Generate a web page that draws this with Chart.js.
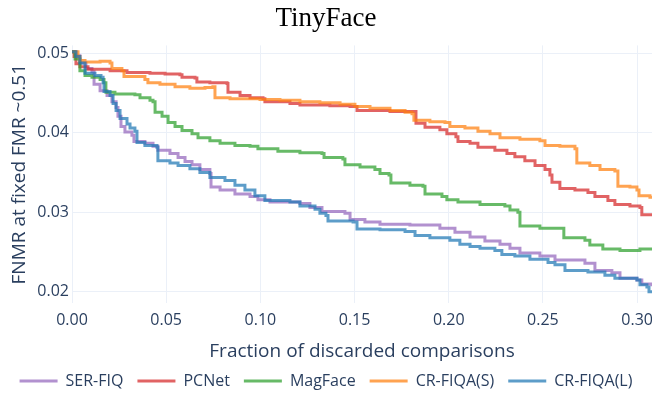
<!DOCTYPE html>
<html>
<head>
<meta charset="utf-8">
<title>TinyFace</title>
<script src="https://cdn.jsdelivr.net/npm/chart.js@4.4.0/dist/chart.umd.min.js"></script>
<style>
  html, body { margin: 0; padding: 0; background: #fff; }
</style>
</head>
<body>
<canvas id="tinyFaceChart" width="652" height="393"></canvas>
<script>
// fraction of discarded comparisons (x) / FNMR (y)
const serFiqX = [0, 0.0021, 0.0042, 0.0074, 0.0106, 0.0117, 0.0149, 0.0186, 0.0212, 0.0234, 0.0244, 0.0260, 0.0281, 0.0318, 0.0329, 0.0387, 0.0430, 0.0456, 0.0520, 0.0563, 0.0600, 0.0637, 0.0679, 0.0732, 0.0738, 0.0786, 0.0865, 0.0945, 0.0987, 0.1051, 0.1210, 0.1263, 0.1327, 0.1449, 0.1476, 0.1555, 0.1635, 0.1794, 0.1953, 0.2033, 0.2113, 0.2192, 0.2272, 0.2325, 0.2378, 0.2484, 0.2564, 0.2723, 0.2776, 0.2866, 0.2909, 0.2999, 0.3025, 0.3079]
const serFiqY = [0.0502, 0.0497, 0.0488, 0.0481, 0.0477, 0.0461, 0.0453, 0.0447, 0.0439, 0.0432, 0.0421, 0.0408, 0.0401, 0.0397, 0.0389, 0.0387, 0.0383, 0.0378, 0.0374, 0.0369, 0.0364, 0.0360, 0.0354, 0.0349, 0.0332, 0.0328, 0.0323, 0.0320, 0.0316, 0.0313, 0.0311, 0.0306, 0.0301, 0.0299, 0.0291, 0.0288, 0.0285, 0.0284, 0.0280, 0.0275, 0.0269, 0.0264, 0.0260, 0.0255, 0.0249, 0.0245, 0.0240, 0.0236, 0.0227, 0.0224, 0.0217, 0.0215, 0.0210, 0.0207]

const pcnetX = [0, 0.0011, 0.0021, 0.0042, 0.0085, 0.0202, 0.0292, 0.0414, 0.0494, 0.0573, 0.0584, 0.0653, 0.0663, 0.0732, 0.0823, 0.0828, 0.0892, 0.0945, 0.1014, 0.1024, 0.1157, 0.1210, 0.1369, 0.1476, 0.1513, 0.1688, 0.1815, 0.1826, 0.1874, 0.1953, 0.1990, 0.2038, 0.2049, 0.2113, 0.2155, 0.2245, 0.2309, 0.2351, 0.2404, 0.2458, 0.2511, 0.2537, 0.2548, 0.2590, 0.2670, 0.2739, 0.2776, 0.2845, 0.2882, 0.2962, 0.3015, 0.3025, 0.3079]
const pcnetY = [0.0502, 0.0496, 0.0487, 0.0483, 0.0480, 0.0478, 0.0476, 0.0475, 0.0474, 0.0473, 0.0470, 0.0469, 0.0464, 0.0463, 0.0462, 0.0451, 0.0447, 0.0444, 0.0443, 0.0439, 0.0437, 0.0435, 0.0434, 0.0433, 0.0428, 0.0427, 0.0427, 0.0412, 0.0407, 0.0404, 0.0399, 0.0395, 0.0389, 0.0387, 0.0382, 0.0378, 0.0374, 0.0370, 0.0365, 0.0359, 0.0354, 0.0347, 0.0338, 0.0330, 0.0328, 0.0325, 0.0320, 0.0315, 0.0310, 0.0308, 0.0306, 0.0297, 0.0295]

const magFaceX = [0, 0.0016, 0.0042, 0.0069, 0.0106, 0.0149, 0.0170, 0.0180, 0.0228, 0.0334, 0.0361, 0.0414, 0.0430, 0.0441, 0.0478, 0.0510, 0.0547, 0.0584, 0.0637, 0.0669, 0.0732, 0.0786, 0.0865, 0.0945, 0.0987, 0.1093, 0.1210, 0.1327, 0.1338, 0.1438, 0.1449, 0.1529, 0.1608, 0.1635, 0.1683, 0.1693, 0.1794, 0.1863, 0.1874, 0.1964, 0.1990, 0.2049, 0.2166, 0.2298, 0.2325, 0.2367, 0.2378, 0.2484, 0.2601, 0.2611, 0.2723, 0.2749, 0.2818, 0.2909, 0.3015, 0.3079]
const magFaceY = [0.0502, 0.0493, 0.0478, 0.0472, 0.0470, 0.0467, 0.0463, 0.0451, 0.0449, 0.0448, 0.0444, 0.0441, 0.0439, 0.0426, 0.0421, 0.0413, 0.0408, 0.0403, 0.0399, 0.0394, 0.0390, 0.0387, 0.0384, 0.0383, 0.0380, 0.0377, 0.0375, 0.0374, 0.0369, 0.0367, 0.0360, 0.0357, 0.0354, 0.0349, 0.0347, 0.0337, 0.0334, 0.0333, 0.0323, 0.0320, 0.0316, 0.0313, 0.0310, 0.0308, 0.0303, 0.0300, 0.0283, 0.0280, 0.0280, 0.0268, 0.0265, 0.0259, 0.0254, 0.0252, 0.0254, 0.0255]

const crFiqaSX = [0, 0.0016, 0.0032, 0.0042, 0.0069, 0.0149, 0.0202, 0.0212, 0.0265, 0.0276, 0.0361, 0.0387, 0.0403, 0.0467, 0.0547, 0.0626, 0.0706, 0.0748, 0.0759, 0.0839, 0.0998, 0.1104, 0.1210, 0.1316, 0.1423, 0.1502, 0.1582, 0.1688, 0.1768, 0.1805, 0.1815, 0.1900, 0.1980, 0.2006, 0.2086, 0.2155, 0.2219, 0.2272, 0.2378, 0.2484, 0.2511, 0.2590, 0.2670, 0.2680, 0.2749, 0.2803, 0.2882, 0.2898, 0.2962, 0.2999, 0.3010, 0.3068, 0.3079]
const crFiqaSY = [0.0502, 0.0502, 0.0496, 0.0491, 0.0489, 0.0490, 0.0488, 0.0481, 0.0478, 0.0471, 0.0471, 0.0467, 0.0463, 0.0461, 0.0458, 0.0456, 0.0457, 0.0458, 0.0444, 0.0443, 0.0442, 0.0441, 0.0439, 0.0438, 0.0436, 0.0433, 0.0431, 0.0428, 0.0426, 0.0424, 0.0416, 0.0414, 0.0413, 0.0408, 0.0406, 0.0402, 0.0399, 0.0394, 0.0392, 0.0390, 0.0384, 0.0383, 0.0380, 0.0362, 0.0359, 0.0354, 0.0352, 0.0333, 0.0332, 0.0328, 0.0321, 0.0319, 0.0318]

const crFiqaLX = [0, 0.0021, 0.0042, 0.0069, 0.0122, 0.0154, 0.0165, 0.0170, 0.0202, 0.0218, 0.0234, 0.0255, 0.0292, 0.0308, 0.0334, 0.0345, 0.0387, 0.0451, 0.0456, 0.0520, 0.0563, 0.0626, 0.0679, 0.0732, 0.0812, 0.0865, 0.0918, 0.0971, 0.1024, 0.1157, 0.1210, 0.1290, 0.1316, 0.1348, 0.1359, 0.1492, 0.1513, 0.1635, 0.1768, 0.1821, 0.1900, 0.2006, 0.2059, 0.2113, 0.2166, 0.2245, 0.2282, 0.2351, 0.2431, 0.2527, 0.2564, 0.2617, 0.2739, 0.2829, 0.2882, 0.2999, 0.3015, 0.3052, 0.3063, 0.3079]
const crFiqaLY = [0.0502, 0.0496, 0.0488, 0.0475, 0.0472, 0.0470, 0.0463, 0.0452, 0.0447, 0.0437, 0.0428, 0.0418, 0.0411, 0.0406, 0.0402, 0.0388, 0.0384, 0.0382, 0.0365, 0.0362, 0.0359, 0.0355, 0.0350, 0.0344, 0.0340, 0.0334, 0.0328, 0.0321, 0.0315, 0.0313, 0.0308, 0.0304, 0.0299, 0.0296, 0.0289, 0.0288, 0.0279, 0.0278, 0.0276, 0.0271, 0.0268, 0.0265, 0.0260, 0.0257, 0.0255, 0.0252, 0.0247, 0.0245, 0.0241, 0.0237, 0.0234, 0.0227, 0.0225, 0.0221, 0.0217, 0.0215, 0.0209, 0.0206, 0.0200, 0.0200]

const seriesNames = ['SER-FIQ', 'PCNet', 'MagFace', 'CR-FIQA(S)', 'CR-FIQA(L)']
const xTicks = [0, 0.05, 0.10, 0.15, 0.20, 0.25, 0.30]
const yTicks = [0.02, 0.03, 0.04, 0.05]

const lineColors = [
    'rgba(148, 103, 189, 0.72)',
    'rgba(214, 39, 40, 0.72)',
    'rgba(44, 160, 44, 0.72)',
    'rgba(255, 127, 14, 0.72)',
    'rgba(31, 119, 180, 0.72)'
]

Chart.defaults.font.family = "'Open Sans', sans-serif"
Chart.defaults.color = '#2a3f5f'

const zip = (xs, ys) => xs.map((x, i) => ({ x, y: ys[i] }))

const curves = [
    zip(serFiqX, serFiqY),
    zip(pcnetX, pcnetY),
    zip(magFaceX, magFaceY),
    zip(crFiqaSX, crFiqaSY),
    zip(crFiqaLX, crFiqaLY)
]

const datasets = curves.map((points, i) => ({
    label: seriesNames[i],
    data: points,
    borderColor: lineColors[i],
    backgroundColor: lineColors[i],
    borderWidth: 3,
    pointRadius: 0,
    stepped: true,
    fill: false,
    // later traces sit on top, like the original
    order: curves.length - i
}))

const gridColor = '#ebf0f8'

new Chart('tinyFaceChart', {
    type: 'line',
    data: { datasets },
    options: {
        responsive: false,
        animation: false,
        layout: { padding: 0 },
        plugins: {
            title: {
                display: true,
                text: 'TinyFace',
                color: '#000',
                font: { family: "'Liberation Serif', 'Times New Roman', serif", size: 27, weight: 'normal' },
                padding: { top: 3, bottom: 10 }
            },
            legend: {
                position: 'bottom',
                maxHeight: 34,
                labels: {
                    usePointStyle: true,
                    pointStyle: 'line',
                    pointStyleWidth: 38,
                    padding: 14,
                    font: { size: 16 },
                    color: '#2a3f5f',
                    sort: (a, b) => a.datasetIndex - b.datasetIndex
                }
            },
            tooltip: { enabled: false }
        },
        scales: {
            x: {
                type: 'linear',
                min: 0,
                max: 0.3079,
                afterBuildTicks: axis => { axis.ticks = xTicks.map(value => ({ value })) },
                afterFit: axis => {
                    axis.height = 56
                    axis.paddingRight = 0
                },
                ticks: {
                    padding: 8,
                    font: { size: 16 },
                    callback: v => v.toFixed(2)
                },
                grid: { color: gridColor, drawTicks: false },
                border: { display: false },
                title: {
                    display: true,
                    text: 'Fraction of discarded comparisons',
                    font: { size: 19 },
                    padding: { top: 0, bottom: -4 }
                }
            },
            y: {
                min: 0.0186,
                max: 0.0510,
                afterBuildTicks: axis => { axis.ticks = yTicks.map(value => ({ value })) },
                afterFit: axis => { axis.width = 72 },
                ticks: {
                    padding: 3,
                    font: { size: 16 },
                    callback: v => v.toFixed(2)
                },
                grid: { color: gridColor, drawTicks: false },
                border: { display: false },
                title: {
                    display: true,
                    text: 'FNMR at fixed FMR ~0.51',
                    font: { size: 19 },
                    padding: { top: 8, bottom: 0 }
                }
            }
        }
    }
})
</script>
</body>
</html>
